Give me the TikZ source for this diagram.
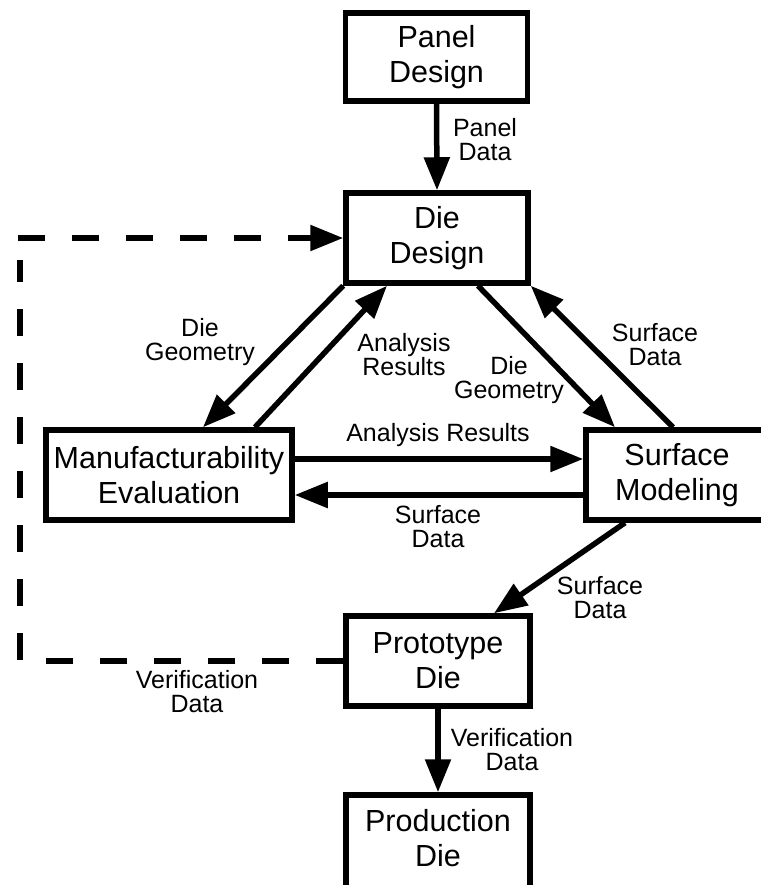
\documentclass[tikz,border=0pt]{standalone}
\usepackage{fontspec}
\setmainfont{Liberation Sans}
\usetikzlibrary{arrows.meta}
\begin{document}
\begin{tikzpicture}[x=1pt,y=-1pt,
  box/.style={draw, line width=5.5pt, minimum width=#1, minimum height=90pt,
    align=center, font=\fontsize{30.5}{35}\selectfont, inner sep=0pt},
  box/.default=182pt,
  lbl/.style={align=center, font=\fontsize{25}{24}\selectfont, inner sep=0pt},
  flow/.style={line width=5.5pt, -{Triangle[length=33pt,width=25pt]}},
  fb/.style={line width=5.5pt, dash pattern=on 27pt off 27pt}]
\useasboundingbox (0,0) rectangle (760,885);
% boxes
\node[box, minimum height=88pt] (pnl) at (436.5,57) {Panel\\Design};
\node[box] (dd) at (437,238) {Die\\Design};
\node[box=246pt] (mfg) at (169,475) {Manufacturability\\Evaluation};
\node[box] (sm) at (677,475) {Surface\\Modeling};
\node[box=184pt] (pd) at (438,661) {Prototype\\Die};
\node[box=184pt, minimum height=100pt, text depth=14pt] (prd) at (438,845) {Production\\Die};
% feedback corners
\coordinate (c1) at (20,238);
\coordinate (c2) at (20,661);
% connectors
\draw[flow] (pnl.south) -- (dd.north);
\draw[flow] (dd.south west) -- ([xshift=34pt]mfg.north);
\draw[flow] ([xshift=86pt]mfg.north) -- ([xshift=-50pt]dd.south);
\draw[flow] ([xshift=41pt]dd.south) -- ([xshift=-62pt]sm.north);
\draw[flow] ([xshift=-4pt]sm.north) -- (dd.south east);
\draw[flow] ([yshift=16pt]mfg.east) -- ([yshift=16pt]sm.west);
\draw[flow] ([yshift=-20pt]sm.west) -- ([yshift=-20pt]mfg.east);
\draw[flow] ([xshift=-52pt]sm.south) -- ([xshift=56pt]pd.north);
\draw[flow] (pd.south) -- (prd.north);
\draw[fb] (pd.west) -- (c2) -- ([yshift=-22pt]c1);
\draw[fb, -{Triangle[length=33pt,width=25pt]}] ([xshift=-2pt]c1) -- (dd.west);
% labels
\node[lbl] (l1) at (485,140) {Panel\\Data};
\node[lbl] (l2) at (200,342) {Die\\Geometry};
\node[lbl] (l3) at (404,355) {Analysis\\Results};
\node[lbl] (l4) at (509,380) {Die\\Geometry};
\node[lbl] (l5) at (655,345) {Surface\\Data};
\node[lbl] (l6) at (438,435) {Analysis Results};
\node[lbl] (l7) at (438,527) {Surface\\Data};
\node[lbl] (l8) at (600,598) {Surface\\Data};
\node[lbl] (l9) at (197,692) {Verification\\Data};
\node[lbl] (l10) at (512,750) {Verification\\Data};
\end{tikzpicture}
\end{document}
